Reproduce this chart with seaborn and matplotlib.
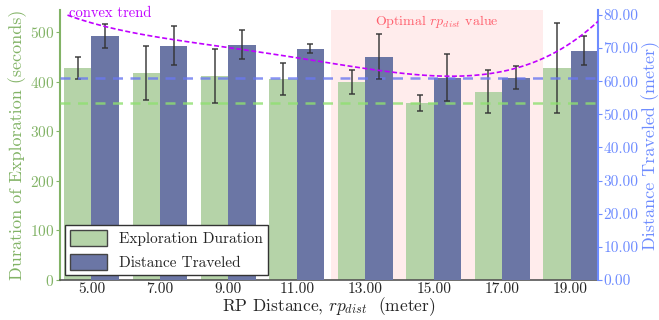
import numpy as np
import pandas as pd
import matplotlib
matplotlib.use('Agg')
import matplotlib.pyplot as plt
import matplotlib.patches as mpatches
import matplotlib.transforms as mtransforms
from matplotlib.ticker import FormatStrFormatter
import seaborn as sns

# values
rp_dist = [5, 7, 9, 11, 13, 15, 17, 19]
duration_mean = [428, 418, 412, 406, 400, 358, 380, 428]
duration_err = [22, 55, 55, 32, 24, 16, 43, 90]
distance_mean = [73.7, 70.7, 71.0, 69.8, 67.4, 61.1, 61.1, 69.2]
distance_err = [3.7, 5.8, 4.4, 1.4, 6.7, 7.0, 3.5, 4.4]

# convex trend curve (category position, metres)
trend_pos = [-0.35, 0, 1, 2, 3, 4, 5, 6, 6.85, 7.22, 7.4]
trend_val = [79.5, 77.9, 74.0, 69.5, 66.5, 63.7, 62.7, 63.4, 68.0, 73.7, 79.8]

labels = ['Exploration Duration', 'Distance Traveled']
green = '#b5d3a8'
blue = '#6b76a5'
green_txt = '#82b366'
blue_txt = '#6e8cff'

sns.set_style('white')
plt.rcParams['font.family'] = ['cmr10', 'DejaVu Serif']
plt.rcParams['mathtext.fontset'] = 'cm'
plt.rcParams['axes.formatter.use_mathtext'] = True

xlab = ['%.2f' % v for v in rp_dist]
df_dur = pd.DataFrame({'rp': xlab, 'value': duration_mean, 'kind': labels[0]})
df_dist = pd.DataFrame({'rp': xlab, 'value': distance_mean, 'kind': labels[1]})
palette = {labels[0]: green, labels[1]: blue}

fig, ax1 = plt.subplots(figsize=(6.59, 3.2), dpi=100)
fig.subplots_adjust(left=0.091, right=0.9074, bottom=0.125, top=0.969)

sns.barplot(data=df_dur, x='rp', y='value', hue='kind', hue_order=labels,
            palette=palette, saturation=1, errorbar=None, order=xlab,
            dodge=True, linewidth=0, ax=ax1, legend=False)
ax2 = ax1.twinx()
sns.barplot(data=df_dist, x='rp', y='value', hue='kind', hue_order=labels,
            palette=palette, saturation=1, errorbar=None, order=xlab,
            dodge=True, linewidth=0, ax=ax2, legend=False)

# error bars at the seaborn bar centres
for ax, means, errs in [(ax1, duration_mean, duration_err),
                        (ax2, distance_mean, distance_err)]:
    centers = sorted(p.get_x() + p.get_width() / 2 for p in ax.patches)
    ax.errorbar(centers, means, yerr=errs, fmt='none', ecolor='#333333',
                elinewidth=1.2, capsize=2, capthick=1.2, alpha=0.85, zorder=5)

# optimal region
ax1.axvspan(3.5, 6.6, color='#ffecec', zorder=0, lw=0)
ax1.text(5.05, 0.99, 'Optimal $rp_{dist}$ value', transform=ax1.get_xaxis_transform(),
         ha='center', va='top', color='#ff5f6d', fontsize=10)

# minimum reference lines
ax2.axhline(min(distance_mean), color='#6a78f0', lw=1.8, dashes=(4, 3), alpha=0.8, zorder=4)
tr = mtransforms.blended_transform_factory(ax2.transAxes, ax1.transData)
ax2.plot([0, 1], [min(duration_mean)] * 2, transform=tr, color='#8fe070',
         lw=1.8, dashes=(4, 3), alpha=0.8, zorder=4)

# convex trend
sns.regplot(x=trend_pos, y=trend_val, order=4, scatter=False, ci=None,
            truncate=True, ax=ax2,
            line_kws=dict(color='#c000ff', lw=1.2, dashes=(3, 1.5), zorder=6))
ax1.text(0.017, 0.975, 'convex trend', transform=ax1.transAxes, color='#c000ff',
         fontsize=10.5, va='baseline', ha='left')

ax1.set_xlim(-0.46, 7.4)
ax1.set_ylim(0, 545)
ax2.set_ylim(0, 81.5)
ax1.set_yticks([0, 100, 200, 300, 400, 500])
ax2.set_yticks(np.arange(0, 81, 10))
ax2.yaxis.set_major_formatter(FormatStrFormatter('%.2f'))

ax1.set_xlabel('RP Distance, $rp_{dist}$  (meter)', fontsize=12.5, labelpad=-1)
ax1.set_ylabel('Duration of Exploration (seconds)', fontsize=13, color=green_txt, labelpad=2)
ax2.set_ylabel('Distance Traveled (meter)', fontsize=13, color=blue_txt, labelpad=2)

ax1.tick_params(axis='x', length=0, labelsize=11, pad=2)
ax1.tick_params(axis='y', colors=green_txt, labelsize=11, length=3, pad=1)
ax2.tick_params(axis='y', colors=blue_txt, labelsize=11, length=3, pad=1)

for s in ['top', 'right']:
    ax1.spines[s].set_visible(False)
for s in ['top', 'left', 'bottom']:
    ax2.spines[s].set_visible(False)
ax1.spines['left'].set_color(green_txt)
ax1.spines['left'].set_linewidth(1.5)
ax2.spines['right'].set_color(blue_txt)
ax2.spines['right'].set_linewidth(1.5)
ax1.spines['bottom'].set_color('#555555')
ax1.spines['bottom'].set_linewidth(1.2)

handles = [mpatches.Patch(facecolor=green, edgecolor='#444444', label=labels[0]),
           mpatches.Patch(facecolor=blue, edgecolor='#444444', label=labels[1])]
leg = ax2.legend(handles=handles, loc='lower left', fontsize=11, fancybox=False,
                 framealpha=1, edgecolor='#333333', handlelength=2.4,
                 handleheight=1.2, borderaxespad=0.3, borderpad=0.35)
leg.get_frame().set_linewidth(1.0)
leg.set_zorder(10)

fig.savefig('out.png', dpi=100)
